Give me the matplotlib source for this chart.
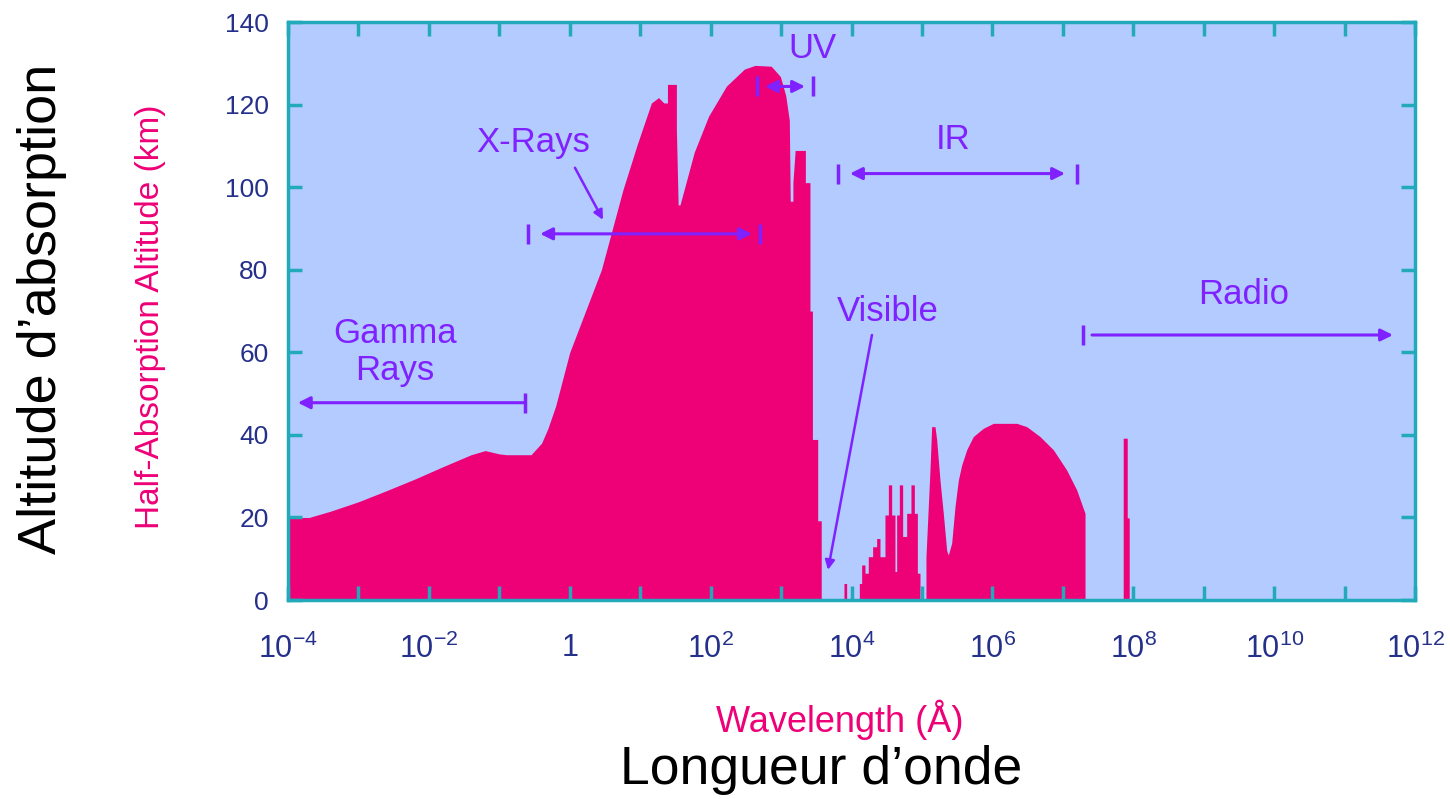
import matplotlib
matplotlib.use("Agg")
import matplotlib.pyplot as plt
import numpy as np

plt.rcParams['font.family'] = ['Liberation Sans', 'DejaVu Sans']
plt.rcParams['mathtext.fontset'] = 'custom'
plt.rcParams['mathtext.rm'] = 'Liberation Sans'
plt.rcParams['mathtext.it'] = 'Liberation Sans'
plt.rcParams['mathtext.default'] = 'regular'

# Courbe d'absorption : log10(longueur d'onde en Å) et altitude (km)
log_wl = [-4.0, -3.7, -3.4, -3.0, -2.6, -2.2, -1.8, -1.4, -1.2, -1.0, -0.9, -0.55,
          -0.4, -0.311, -0.2, 0.0, 0.449, 0.754, 0.957, 1.159, 1.26, 1.336, 1.336,
          1.387, 1.387, 1.514, 1.514, 1.539, 1.565, 1.768, 1.971, 2.225, 2.479, 2.63,
          2.86, 2.99, 3.066, 3.117, 3.13, 3.168, 3.168, 3.20, 3.30, 3.345, 3.345,
          3.41, 3.41, 3.445, 3.445, 3.52, 3.52, 3.57, 3.57,
          3.893, 3.893, 3.931, 3.931,
          4.111, 4.111, 4.144, 4.144, 4.191, 4.191, 4.238, 4.238, 4.30, 4.30,
          4.357, 4.357, 4.404, 4.404, 4.475, 4.475, 4.523, 4.523, 4.570, 4.570,
          4.617, 4.617, 4.641, 4.641, 4.679, 4.679, 4.726, 4.726, 4.783, 4.783,
          4.844, 4.844, 4.892, 4.892, 4.935, 4.935, 4.972, 4.972,
          5.057, 5.057, 5.114, 5.138, 5.185, 5.209, 5.256, 5.303, 5.351, 5.374,
          5.422, 5.469, 5.516, 5.564, 5.635, 5.729, 5.871, 6.013, 6.18, 6.345,
          6.487, 6.676, 6.865, 7.054, 7.196, 7.315, 7.315,
          7.857, 7.857, 7.914, 7.914, 7.942, 7.942, 12.0]
altitude = [20, 20, 21.5, 23.8, 26.5, 29.3, 32.3, 35.2, 36.2, 35.4, 35.2, 35.2,
            38, 41.5, 47, 60, 80, 99.3, 110.3, 120.4, 121.7, 120.4, 120.4,
            120.4, 124.9, 124.9, 114, 95.7, 95.7, 108.5, 117.2, 124.5, 128.6, 129.5,
            129.3, 126.8, 122.2, 116.2, 96.6, 96.6, 101.1, 108.9, 108.9, 108.9, 101.1,
            101.1, 70, 70, 38.9, 38.9, 19.2, 19.2, 0,
            0, 4, 4, 0,
            0, 4, 4, 8.5, 8.5, 6.5, 6.5, 10.5, 10.5, 12.9,
            12.9, 14.9, 14.9, 10.5, 10.5, 20.6, 20.6, 27.9, 27.9, 20.6,
            20.6, 6.9, 6.9, 20.6, 20.6, 27.9, 27.9, 15.4, 15.4, 21,
            21, 27.9, 27.9, 21, 21, 6.5, 6.5, 0,
            0, 10.5, 31.5, 42, 42, 38.8, 29, 21, 12, 10.9,
            13.8, 22.6, 29, 32.7, 36.4, 39.6, 41.6, 42.8, 42.8, 42.8,
            42, 39.6, 36.4, 31.5, 26.7, 21, 0,
            0, 39.2, 39.2, 19.9, 19.9, 0, 0]

x_ticks = [1e-4, 1e-3, 1e-2, 1e-1, 1, 1e1, 1e2, 1e3, 1e4, 1e5, 1e6, 1e7, 1e8,
           1e9, 1e10, 1e11, 1e12]
x_labels = [r'$10^{-4}$', '', r'$10^{-2}$', '', '1', '', r'$10^{2}$', '', r'$10^{4}$', '',
            r'$10^{6}$', '', r'$10^{8}$', '', r'$10^{10}$', '', r'$10^{12}$']
y_ticks = [0, 20, 40, 60, 80, 100, 120, 140]

pink = '#ee0077'
violet = '#7f22ff'
teal = '#22aabb'
navy = '#25308a'

wl = 10 ** np.array(log_wl)

fig = plt.figure(figsize=(14.5, 7.99), dpi=100)
ax = fig.add_axes([0.1986, 0.249, 0.7773, 0.7234])
ax.set_facecolor('#b3cbff')
ax.fill_between(wl, altitude, 0, color=pink, linewidth=0)
ax.set_xscale('log')
ax.set_xlim(1e-4, 1e12)
ax.set_ylim(0, 140)

ax.set_xticks(x_ticks)
ax.set_xticklabels(x_labels)
ax.minorticks_off()
ax.set_yticks(y_ticks)
ax.tick_params(direction='in', length=10, width=2.5, color=teal, top=True, right=True,
               labelcolor=navy)
ax.tick_params(axis='y', labelsize=19, pad=14)
ax.tick_params(axis='x', labelsize=22, pad=24)
for s in ax.spines.values():
    s.set_color(teal)
    s.set_linewidth(2.5)

ax.set_ylabel('Half-Absorption Altitude (km)', color=pink, fontsize=24)
ax.yaxis.set_label_coords(-0.108, 0.49)
ax.set_xlabel('Wavelength (Å)', color=pink, fontsize=26)
ax.xaxis.set_label_coords(0.49, -0.172)

# Domaines spectraux
def bar(lx, y):
    ax.plot([10 ** lx], [y], marker='|', markersize=14, markeredgewidth=2.5, color=violet)

def arrow(l0, l1, y, style):
    ax.annotate('', xy=(10 ** l1, y), xytext=(10 ** l0, y),
                arrowprops=dict(arrowstyle=style, color=violet, lw=2.2,
                                mutation_scale=18, shrinkA=0, shrinkB=0))

# Gamma
bar(-0.635, 47.8)
arrow(-0.635, -3.86, 47.8, '-|>')
ax.text(10 ** -2.48, 60, 'Gamma\nRays', color=violet, fontsize=25, ha='center', va='center',
        linespacing=1.15)
# X-Rays
bar(-0.593, 88.7)
bar(2.701, 88.7)
arrow(-0.42, 2.587, 88.7, '<|-|>')
ax.text(10 ** -0.52, 110.8, 'X-Rays', color=violet, fontsize=25, ha='center', va='center')
ax.annotate('', xy=(10 ** 0.472, 92.1), xytext=(10 ** 0.074, 104.7),
            arrowprops=dict(arrowstyle='-|>', color=violet, lw=1.8, mutation_scale=14,
                            shrinkA=0, shrinkB=0))
# UV
bar(2.658, 124.4)
bar(3.453, 124.4)
arrow(2.772, 3.34, 124.4, '<|-|>')
ax.text(10 ** 3.44, 133.5, 'UV', color=violet, fontsize=25, ha='center', va='center')
# Visible
ax.text(10 ** 4.52, 69.8, 'Visible', color=violet, fontsize=25, ha='center', va='center')
ax.annotate('', xy=(10 ** 3.666, 7.3), xytext=(10 ** 4.29, 64.2),
            arrowprops=dict(arrowstyle='-|>', color=violet, lw=1.8, mutation_scale=14,
                            shrinkA=0, shrinkB=0))
# IR
bar(3.808, 103.3)
bar(7.201, 103.3)
arrow(3.978, 7.031, 103.3, '<|-|>')
ax.text(10 ** 5.44, 111.5, 'IR', color=violet, fontsize=25, ha='center', va='center')
# Radio
bar(7.286, 64.2)
arrow(7.414, 11.687, 64.2, '-|>')
ax.text(10 ** 9.56, 73.9, 'Radio', color=violet, fontsize=25, ha='center', va='center')

fig.text(0.029, 0.614, 'Altitude d’absorption', rotation=90, fontsize=39,
         ha='center', va='center', color='black')
fig.text(0.566, 0.036, 'Longueur d’onde', fontsize=38.5, ha='center', va='center',
         color='black')

fig.savefig('out.png', dpi=100)
